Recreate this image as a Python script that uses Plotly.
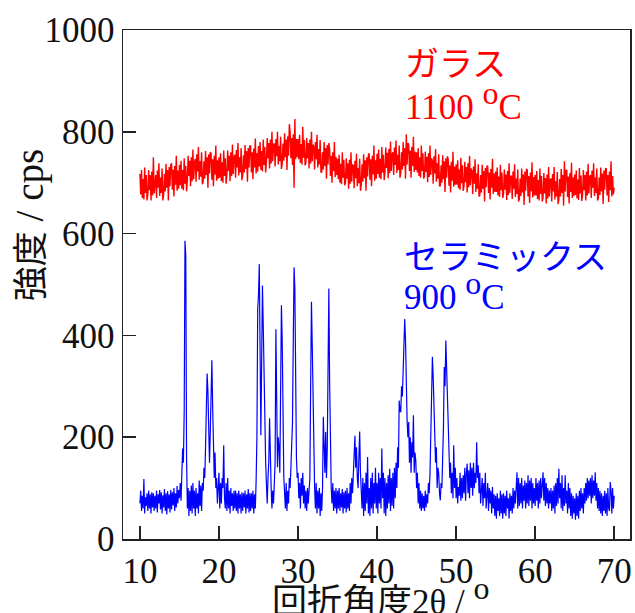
import numpy as np
import plotly.graph_objects as go

# ---- data ----
glass_label = "ガラス"
glass_temp = "1100"
ceramic_label = "セラミックス"
ceramic_temp = "900"

x_ticks = [10, 20, 30, 40, 50, 60, 70]
y_ticks = [0, 200, 400, 600, 800, 1000]

# red: glass, 10.0 .. 70.0 step 0.1 deg
glass_start, glass_step = 10.0, 0.1
glass_cps = [
    717, 677, 725, 670, 707, 667, 730, 680, 715, 665,
    677, 725, 685, 715, 665, 722, 675, 750, 679, 712,
    715, 670, 724, 690, 738, 674, 710, 680, 728, 665,
    677, 717, 683, 737, 690, 725, 665, 731, 693, 735,
    738, 686, 726, 673, 733, 696, 753, 684, 724, 688,
    735, 695, 743, 688, 725, 685, 748, 698, 733, 683,
    705, 753, 713, 743, 693, 750, 703, 765, 707, 740,
    747, 702, 756, 722, 770, 706, 742, 712, 760, 697,
    702, 742, 708, 762, 715, 750, 690, 756, 718, 760,
    758, 706, 746, 693, 753, 716, 773, 704, 744, 708,
    750, 710, 758, 703, 740, 700, 763, 713, 748, 698,
    715, 763, 723, 753, 703, 760, 713, 775, 717, 750,
    755, 710, 764, 730, 778, 714, 750, 720, 768, 705,
    714, 754, 720, 774, 727, 762, 702, 768, 730, 772,
    772, 720, 760, 707, 767, 730, 787, 718, 758, 722,
    772, 732, 780, 725, 762, 722, 785, 735, 770, 720,
    740, 788, 748, 778, 728, 785, 738, 800, 742, 775,
    777, 732, 786, 752, 800, 736, 772, 742, 790, 727,
    737, 777, 743, 797, 750, 785, 725, 791, 753, 815,
    800, 748, 788, 735, 795, 690, 825, 746, 786, 750,
    786, 746, 794, 739, 776, 736, 810, 749, 784, 734,
    740, 788, 748, 778, 728, 785, 738, 800, 742, 775,
    771, 726, 780, 746, 794, 730, 766, 736, 784, 721,
    720, 760, 726, 780, 733, 768, 708, 774, 736, 778,
    765, 713, 753, 700, 760, 723, 780, 711, 751, 715,
    747, 707, 755, 700, 737, 697, 760, 710, 745, 695,
    700, 748, 708, 738, 688, 745, 698, 760, 702, 735,
    734, 689, 743, 709, 757, 693, 729, 699, 747, 684,
    696, 736, 702, 756, 709, 744, 684, 750, 712, 754,
    758, 706, 746, 693, 753, 716, 773, 704, 744, 708,
    757, 717, 765, 710, 747, 707, 770, 720, 755, 705,
    721, 769, 729, 759, 709, 766, 719, 781, 723, 756,
    760, 715, 769, 735, 783, 719, 755, 725, 773, 710,
    720, 760, 726, 780, 733, 768, 708, 795, 736, 778,
    775, 723, 763, 710, 770, 733, 790, 721, 761, 725,
    760, 720, 768, 713, 750, 710, 773, 723, 758, 708,
    713, 761, 721, 751, 701, 758, 711, 773, 715, 748,
    743, 698, 752, 718, 766, 702, 738, 708, 756, 693,
    694, 734, 700, 754, 707, 742, 682, 748, 710, 752,
    746, 694, 734, 681, 741, 704, 761, 692, 732, 696,
    736, 696, 744, 689, 726, 686, 749, 699, 734, 684,
    693, 741, 701, 731, 681, 738, 691, 753, 695, 728,
    723, 678, 732, 698, 746, 682, 718, 688, 736, 673,
    675, 715, 681, 735, 688, 723, 663, 729, 691, 733,
    732, 680, 720, 667, 727, 690, 747, 678, 718, 682,
    722, 682, 730, 675, 712, 672, 735, 685, 720, 670,
    678, 726, 686, 716, 666, 723, 676, 738, 680, 713,
    713, 668, 722, 688, 736, 672, 708, 678, 726, 663,
    668, 708, 674, 728, 681, 716, 656, 722, 684, 726,
    725, 673, 713, 660, 720, 683, 740, 671, 711, 675,
    715, 675, 723, 668, 705, 665, 728, 678, 713, 663,
    671, 719, 679, 709, 659, 716, 669, 731, 673, 706,
    708, 663, 717, 683, 731, 667, 703, 673, 721, 658,
    667, 707, 673, 727, 680, 715, 655, 742, 683, 725,
    724, 672, 712, 659, 719, 682, 739, 670, 710, 674,
    716, 676, 724, 669, 706, 666, 729, 679, 714, 664,
    677, 725, 685, 715, 665, 722, 675, 737, 679, 712,
    715, 670, 724, 690, 738, 674, 710, 680, 728, 665,
    670, 710, 676, 730, 683, 718, 658, 724, 686, 728,
    727, 675, 715, 662, 722, 685, 742, 673, 713, 677,
    690,
]

# blue: ceramic, 10.0 .. 70.0 step 0.1 deg
ceramic_start, ceramic_step = 10.0, 0.1
ceramic_cps = [
    70, 95, 55, 85, 60, 118, 50, 82, 65, 90,
    55, 95, 60, 88, 50, 92, 62, 90, 55, 85,
    60, 95, 52, 88, 70, 96, 58, 92, 50, 86,
    62, 98, 55, 90, 48, 94, 60, 88, 52, 96,
    58, 92, 66, 100, 55, 90, 62, 104, 70, 96,
    80, 110, 75, 120, 178, 150, 250, 586, 557, 160,
    60, 100, 45, 95, 55, 105, 50, 110, 60, 95,
    45, 100, 60, 90, 50, 115, 65, 105, 55, 110,
    95, 140, 120, 180, 280, 325, 290, 230, 150, 210,
    300, 351, 259, 150, 120, 170, 100, 120, 70, 100,
    130, 60, 110, 70, 120, 100, 184, 80, 60, 110,
    55, 120, 60, 95, 50, 100, 65, 90, 55, 95,
    60, 95, 55, 90, 50, 95, 60, 88, 50, 92,
    55, 90, 62, 95, 50, 88, 60, 98, 52, 90,
    55, 90, 60, 95, 50, 88, 60, 115, 200, 453,
    480, 540, 320, 204, 350, 498, 420, 331, 180, 154,
    110, 70, 120, 150, 237, 130, 100, 60, 95, 70,
    100, 150, 412, 220, 141, 200, 180, 130, 300, 459,
    390, 200, 121, 90, 60, 110, 55, 95, 70, 120,
    100, 140, 180, 230, 390, 534, 492, 210, 160, 120,
    130, 80, 110, 60, 120, 85, 130, 70, 105, 60,
    95, 55, 100, 70, 110, 120, 305, 466, 380, 286,
    150, 100, 60, 110, 50, 95, 60, 100, 45, 90,
    55, 100, 240, 150, 130, 210, 120, 180, 350, 492,
    306, 150, 100, 70, 110, 55, 95, 60, 100, 50,
    95, 60, 100, 55, 90, 62, 98, 50, 92, 60,
    95, 52, 100, 60, 90, 55, 110, 70, 120, 90,
    130, 151, 203, 140, 180, 120, 100, 160, 211, 130,
    100, 60, 120, 45, 110, 55, 130, 70, 161, 50,
    100, 45, 120, 60, 130, 50, 110, 70, 140, 60,
    110, 50, 130, 70, 120, 60, 178, 80, 130, 50,
    120, 45, 110, 60, 125, 70, 138, 55, 120, 65,
    130, 60, 140, 80, 150, 100, 180, 140, 272, 250,
    250, 300, 280, 350, 380, 432, 390, 260, 233, 200,
    230, 150, 200, 130, 190, 160, 243, 130, 170, 154,
    100, 130, 70, 110, 60, 95, 55, 90, 60, 85,
    55, 95, 62, 88, 70, 110, 90, 130, 200, 250,
    358, 318, 250, 207, 150, 180, 100, 140, 129, 90,
    76, 110, 100, 160, 220, 338, 300, 390, 330, 272,
    200, 188, 120, 150, 90, 130, 80, 184, 100, 140,
    80, 120, 70, 102, 85, 130, 75, 120, 80, 125,
    90, 140, 75, 130, 148, 90, 135, 80, 150, 100,
    140, 85, 150, 100, 130, 110, 190, 120, 145, 90,
    130, 70, 102, 120, 65, 110, 80, 130, 60, 100,
    110, 55, 100, 70, 95, 50, 102, 60, 88, 45,
    85, 40, 90, 55, 80, 45, 95, 50, 88, 40,
    90, 50, 85, 45, 95, 60, 80, 40, 90, 55,
    85, 50, 100, 60, 95, 70, 110, 131, 60, 120,
    65, 110, 70, 120, 60, 105, 75, 115, 60, 110,
    70, 125, 65, 115, 75, 120, 60, 110, 70, 100,
    65, 120, 75, 110, 60, 115, 70, 120, 80, 110,
    131, 75, 120, 65, 110, 70, 100, 60, 95, 70,
    100, 55, 95, 60, 105, 50, 110, 65, 120, 70,
    138, 80, 110, 60, 125, 55, 100, 65, 125, 70,
    95, 50, 110, 60, 100, 45, 90, 40, 85, 50,
    80, 38, 90, 45, 85, 40, 95, 55, 100, 60,
    90, 50, 100, 70, 110, 75, 120, 80, 115, 85,
    120, 70, 125, 80, 115, 85, 131, 75, 110, 60,
    100, 55, 95, 50, 90, 45, 85, 55, 95, 50,
    90, 45, 100, 60, 55, 112, 95, 50, 100, 60,
    85,
]

glass_x = np.round(glass_start + glass_step * np.arange(len(glass_cps)), 2)
ceramic_x = np.round(ceramic_start + ceramic_step * np.arange(len(ceramic_cps)), 2)

# ---- figure ----
W, H = 635, 613
ML, MR, MT, MB = 123, 3, 30, 74
SERIF = "Liberation Serif, Times New Roman, Noto Sans CJK JP, serif"
AX = "#222222"
TXT = "#111111"

fig = go.Figure()
fig.add_trace(go.Scatter(x=ceramic_x, y=ceramic_cps, mode="lines",
                         line=dict(color="#0000FF", width=1.2), showlegend=False,
                         hoverinfo="skip"))
fig.add_trace(go.Scatter(x=glass_x, y=glass_cps, mode="lines",
                         line=dict(color="#FF0000", width=1.4), showlegend=False,
                         hoverinfo="skip"))

fig.update_layout(
    width=W, height=H,
    margin=dict(l=ML, r=MR, t=MT, b=MB),
    paper_bgcolor="white", plot_bgcolor="white",
    font=dict(family=SERIF, size=35, color=TXT),
    showlegend=False,
)
axis_common = dict(
    ticks="inside", ticklen=13, tickwidth=1.5, tickcolor=AX,
    showline=True, linecolor=AX, linewidth=1.5, mirror=True,
    showgrid=False, zeroline=False,
    tickfont=dict(family=SERIF, size=35, color=TXT),
)
fig.update_xaxes(range=[7.857, 72.0], tickvals=x_ticks, **axis_common)
fig.update_yaxes(range=[0, 1000], tickvals=y_ticks, **axis_common)

def add_text(text, x, y, color, size=34, xanchor="left", angle=0, xref="x", yref="y"):
    fig.add_annotation(text=text, x=x, y=y, xref=xref, yref=yref, showarrow=False,
                       xanchor=xanchor, yanchor="middle", textangle=angle,
                       font=dict(family=SERIF, size=size, color=color))

deg = '<sup><span style="font-size:32px">o</span></sup>'
add_text(glass_label, 43.3, 932, "#FF0000")
add_text(glass_temp + " " + deg + "C", 43.3, 861, "#FF0000", size=35)
add_text(ceramic_label, 43.1, 554, "#0000FF")
add_text(ceramic_temp + " " + deg + "C", 43.1, 487, "#0000FF", size=35)

# axis titles
add_text("回折角度2θ / " + deg, 0.509, -0.112, TXT, size=35,
         xanchor="center", xref="paper", yref="paper")
add_text('強度<span style="font-size:39px"> / cps</span>', -0.183, 0.617, TXT, size=35,
         xanchor="center", angle=-90, xref="paper", yref="paper")

fig.write_html(
    "out.html",
    config={"displayModeBar": False, "staticPlot": True},
    post_script="document.body.style.margin='0';document.body.style.overflow='hidden';",
)
